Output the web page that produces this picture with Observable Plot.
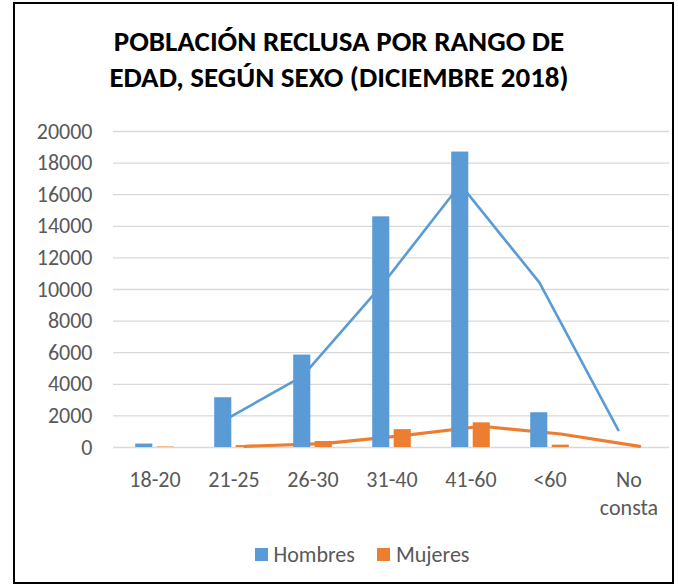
<!DOCTYPE html>
<html>
<head>
<meta charset="utf-8">
<script src="https://cdn.jsdelivr.net/npm/d3@7"></script>
<script src="https://cdn.jsdelivr.net/npm/@observablehq/plot@0.6"></script>
<style>
  html, body { margin: 0; padding: 0; background: #fff; }
  #wrap { position: relative; width: 678px; height: 587px; overflow: hidden; font-family: Calibri, Carlito, "Open Sans", sans-serif; }
  #frame { position: absolute; left: 13px; top: 2px; width: 661px; height: 582px; border: 2px solid #000; box-sizing: border-box; }
  #title { position: absolute; left: 0; width: 678px; top: 23px; text-align: center; font-weight: 700; font-size: 29px; line-height: 36px; color: #000; }
  #chart { position: absolute; left: 0; top: 110px; }
  #legend { position: absolute; top: 541px; left: 23px; width: 678px; display: flex; justify-content: center; gap: 22px; font-size: 22px; color: #595959; }
  .item { display: flex; align-items: center; gap: 6px; }
  .sw { width: 13px; height: 13px; display: inline-block; }
</style>
</head>
<body>
<div id="wrap">
  <div id="frame"></div>
  <div id="title">POBLACIÓN RECLUSA POR RANGO DE<br>EDAD, SEGÚN SEXO (DICIEMBRE 2018)</div>
  <div id="chart"></div>
  <div id="legend">
    <div class="item"><span class="sw" style="background:#5B9BD5"></span>Hombres</div>
    <div class="item"><span class="sw" style="background:#ED7D31"></span>Mujeres</div>
  </div>
</div>
<script>
const categories = ["18-20", "21-25", "26-30", "31-40", "41-60", "<60", "No consta"];
const hombres = [220, 3150, 5850, 14600, 18700, 2200, 0];
const mujeres = [30, 120, 380, 1130, 1560, 150, 0];
// trend lines (2-period moving average)
const hombresTrend = [null, 1690, 4500, 10225, 16650, 10450, 1100];
const mujeresTrend = [null, 75, 250, 755, 1345, 855, 75];
const yTicks = [0, 2000, 4000, 6000, 8000, 10000, 12000, 14000, 16000, 18000, 20000];

const blue = "#5B9BD5", orange = "#ED7D31";

const rowsH = categories.map((c, i) => ({cat: c, v: hombres[i]}));
const rowsM = categories.map((c, i) => ({cat: c, v: mujeres[i]}));
const trendH = categories.map((c, i) => ({cat: c, v: hombresTrend[i]})).filter(d => d.v != null);
const trendM = categories.map((c, i) => ({cat: c, v: mujeresTrend[i]})).filter(d => d.v != null);

const W = 678, H = 420;
const chart = Plot.plot({
  width: W, height: H,
  marginTop: 21, marginBottom: 83, marginLeft: 113, marginRight: 9,
  style: {fontFamily: 'Calibri, Carlito, "Open Sans", sans-serif', fontSize: "22px", color: "#595959", background: "transparent"},
  x: {domain: categories, padding: 0, label: null},
  y: {domain: [0, 20000], ticks: yTicks, label: null},
  marks: [
    Plot.gridY(yTicks, {stroke: "#D9D9D9", strokeOpacity: 1, strokeWidth: 1.3}),
    Plot.axisY(yTicks, {tickSize: 0, tickPadding: 21, tickFormat: d => String(d), fill: "#595959", fontSize: 22, label: null}),
    Plot.axisX({tickSize: 0, tickPadding: 20, tickFormat: d => d.replace(" ", "\n"), fill: "#595959", fontSize: 22, lineHeight: 1.25, label: null}),
    Plot.line(trendH, {x: "cat", y: "v", stroke: blue, strokeWidth: 2.6, dx: -10.7}),
    Plot.line(trendM, {x: "cat", y: "v", stroke: orange, strokeWidth: 3.2, dx: 10.7}),
    Plot.barY(rowsH, {x: "cat", y: "v", fill: blue, insetLeft: 20.2, insetRight: 41.7}),
    Plot.barY(rowsM, {x: "cat", y: "v", fill: orange, insetLeft: 41.7, insetRight: 20.2})
  ]
});
document.getElementById("chart").appendChild(chart);
</script>
</body>
</html>
